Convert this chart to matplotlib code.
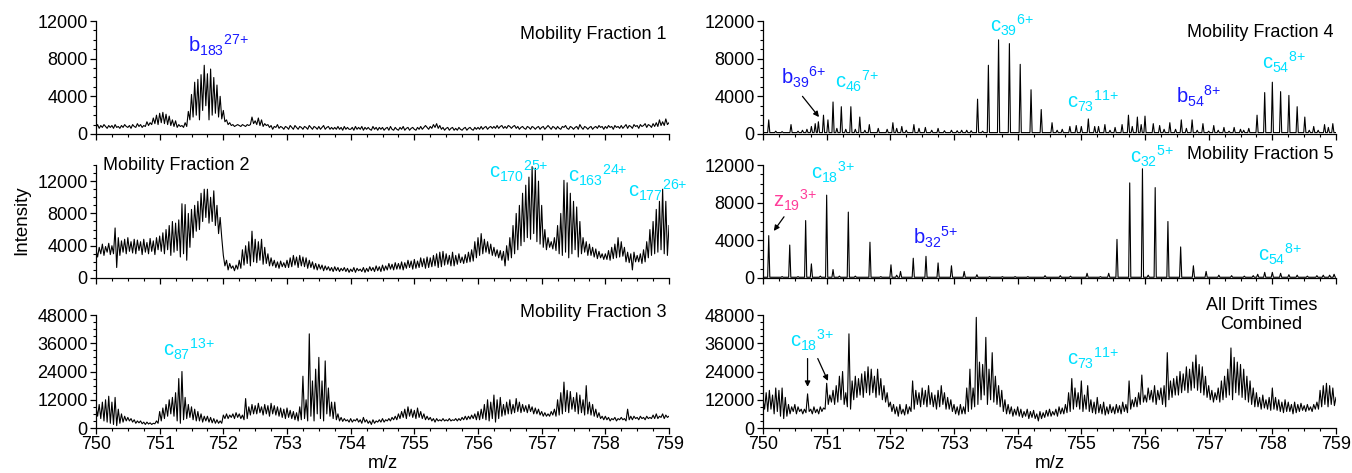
import numpy as np
import matplotlib
matplotlib.use("Agg")
import matplotlib.pyplot as plt
from matplotlib.ticker import MultipleLocator, NullFormatter

plt.rcParams['font.family'] = ['Liberation Sans', 'DejaVu Sans']
plt.rcParams['mathtext.fontset'] = 'custom'
plt.rcParams['mathtext.rm'] = 'Liberation Sans'
plt.rcParams['mathtext.it'] = 'Liberation Sans'
plt.rcParams['mathtext.bf'] = 'Liberation Sans:bold'

MZ_MIN, MZ_MAX = 750, 759

# ---------------- Data: dense profile spectra (sampled every 0.025 m/z) -------------
frac1 = [
    700, 1000, 600, 900, 700, 1000, 800, 600, 900, 700,
    900, 600, 1000, 700, 800, 600, 900, 700, 1000, 800,
    700, 900, 600, 1000, 800, 700, 1100, 800, 1000, 700,
    900, 800, 1300, 900, 1200, 1000, 1700, 1100, 2000, 1000,
    2200, 1200, 2300, 1100, 2100, 1000, 1900, 900, 1500, 800,
    1400, 700, 1000, 800, 900, 700, 1200, 800, 2400, 1500,
    4200, 1800, 5500, 2000, 5800, 1500, 6300, 2500, 7300, 3000,
    6400, 1500, 6900, 2000, 6000, 2200, 5200, 1800, 4000, 1600,
    2500, 1300, 1500, 1000, 1200, 900, 1000, 800, 900, 1000,
    900, 800, 1000, 900, 800, 1000, 900, 1000, 1800, 1100,
    1400, 1000, 1700, 900, 1500, 800, 1100, 900, 1000, 700,
    900, 500, 800, 700, 1000, 600, 800, 700, 500, 800,
    700, 500, 900, 700, 500, 900, 700, 500, 800, 700,
    500, 800, 700, 500, 900, 700, 500, 800, 700, 500,
    800, 500, 700, 900, 500, 700, 800, 500, 700, 500,
    700, 500, 800, 500, 700, 400, 800, 500, 700, 500,
    500, 700, 400, 800, 500, 700, 500, 800, 400, 700,
    500, 700, 500, 400, 800, 500, 700, 400, 700, 500,
    700, 400, 600, 700, 400, 800, 500, 400, 700, 500,
    400, 700, 500, 800, 400, 600, 700, 400, 600, 700,
    500, 400, 700, 500, 800, 500, 700, 900, 700, 500,
    800, 600, 1000, 700, 1100, 600, 900, 500, 700, 400,
    600, 700, 400, 600, 700, 400, 600, 400, 700, 500,
    400, 600, 700, 400, 600, 700, 500, 400, 700, 500,
    700, 500, 800, 500, 700, 800, 500, 700, 800, 600,
    800, 600, 900, 600, 800, 900, 600, 800, 600, 900,
    800, 600, 800, 900, 600, 800, 500, 700, 800, 600,
    500, 800, 700, 500, 800, 700, 500, 700, 800, 500,
    700, 800, 500, 700, 900, 700, 500, 800, 700, 500,
    800, 600, 500, 800, 700, 900, 600, 500, 800, 700,
    500, 700, 800, 500, 1000, 700, 500, 800, 700, 500,
    700, 800, 500, 700, 800, 600, 900, 700, 800, 500,
    800, 600, 900, 700, 800, 500, 900, 700, 800, 600,
    900, 600, 800, 1000, 600, 900, 800, 600, 1000, 800,
    900, 600, 1000, 800, 900, 1100, 700, 1000, 900, 700,
    1100, 800, 1200, 800, 1500, 900, 1300, 900, 1600, 1000,
    1200,
]

frac2 = [
    3500, 2600, 3800, 3000, 4200, 2800, 3900, 3200, 4300, 2900,
    4000, 3000, 6200, 1300, 5000, 2800, 4600, 3200, 4800, 3000,
    5000, 3300, 4500, 3100, 4800, 3000, 4700, 3400, 4500, 2900,
    4800, 3200, 4400, 3000, 4900, 3300, 4600, 2900, 5000, 3500,
    5200, 3300, 5600, 3000, 6000, 3500, 6500, 2800, 7000, 3200,
    6800, 3400, 7200, 2600, 9200, 3000, 9100, 2200, 8000, 3800,
    8500, 5000, 9000, 5800, 9500, 6000, 10500, 7000, 11000, 7500,
    11000, 6800, 10000, 7000, 10800, 6500, 9000, 5500, 7500, 5000,
    2800, 1500, 2200, 1000, 1800, 1200, 1500, 900, 1600, 1100,
    2200, 1200, 3500, 1600, 4000, 1800, 4500, 1500, 5800, 2000,
    4800, 1900, 4500, 2200, 4800, 1700, 3800, 1800, 3000, 1500,
    2500, 1500, 2200, 1300, 2000, 1200, 2100, 1400, 1900, 1300,
    2200, 1300, 2500, 1400, 2800, 1600, 2600, 1300, 2800, 1500,
    2600, 1400, 2500, 1200, 2200, 1300, 2000, 1100, 1800, 1000,
    1700, 1100, 1600, 900, 1500, 1000, 1400, 900, 1300, 800,
    1400, 900, 1300, 800, 1200, 900, 1300, 800, 1200, 700,
    1100, 800, 1300, 700, 1200, 900, 1100, 800, 1300, 700,
    1200, 800, 1400, 900, 1300, 800, 1500, 900, 1400, 800,
    1600, 900, 1500, 1000, 1800, 1100, 1700, 1000, 1900, 1100,
    1800, 1100, 2000, 1000, 1900, 1200, 2200, 1300, 2100, 1100,
    2300, 1200, 2100, 1300, 2500, 1400, 2400, 1200, 2600, 1300,
    2500, 1400, 2800, 1500, 3000, 1300, 3200, 1400, 3300, 1600,
    3000, 1700, 2800, 1500, 3200, 1500, 2800, 1700, 3000, 1900,
    2600, 1800, 2900, 1900, 3200, 2000, 3500, 2100, 4500, 2500,
    5000, 2800, 5500, 3000, 4800, 3200, 4500, 3000, 4200, 2800,
    3800, 2700, 3500, 2500, 3400, 2200, 3300, 1500, 4000, 2200,
    5000, 2500, 6500, 3000, 8000, 3500, 9000, 4000, 10500, 4500,
    11500, 5000, 12500, 4800, 13800, 5500, 13600, 4500, 12000, 4200,
    9000, 3800, 6000, 3500, 5000, 3800, 4500, 3600, 5000, 3400,
    6500, 3000, 8000, 2800, 12100, 3200, 11800, 2500, 10500, 3000,
    9500, 3500, 8800, 2600, 7000, 3000, 5000, 3200, 4500, 2800,
    4200, 2800, 3800, 2600, 3600, 2400, 3300, 2500, 3000, 2300,
    3000, 2300, 3400, 2200, 3800, 2400, 4200, 2500, 5000, 2600,
    4500, 2700, 3800, 2000, 3200, 1900, 3000, 1000, 3200, 2000,
    2800, 2000, 3000, 1800, 3500, 2000, 4500, 2500, 6000, 2800,
    7000, 3000, 8500, 3200, 9500, 3500, 11000, 3000, 9500, 2800,
    6500,
]

frac3 = [
    9000, 5000, 10000, 4000, 11000, 3000, 12000, 2500, 13500, 2000,
    11000, 1500, 13000, 1000, 8000, 2000, 6000, 2500, 5000, 3000,
    4500, 3000, 4000, 2500, 3500, 2000, 3000, 2200, 3000, 1800,
    2500, 1500, 2500, 1700, 2200, 1500, 2000, 1800, 3000, 2000,
    7000, 3000, 8500, 4000, 10000, 5000, 12000, 6000, 13000, 5000,
    15000, 3000, 21000, 2000, 24000, 3500, 13000, 4000, 10000, 4500,
    9000, 3500, 8000, 3000, 7000, 3000, 6000, 2500, 5000, 3000,
    5000, 2500, 4500, 2200, 4000, 2000, 3500, 2000, 3000, 2000,
    5500, 4000, 6000, 4000, 5500, 4500, 6000, 4000, 6500, 4500,
    6000, 4000, 5500, 3500, 12500, 4000, 9000, 5500, 10000, 6000,
    9500, 6000, 10500, 6500, 9000, 5500, 10000, 6000, 9500, 5000,
    10500, 6000, 9500, 5500, 9000, 5000, 8500, 4500, 8000, 4000,
    8500, 4500, 7500, 4000, 7000, 3500, 6500, 3000, 9000, 3500,
    22000, 4000, 12000, 3000, 40000, 5000, 20000, 3000, 25000, 6000,
    30000, 4000, 20000, 3000, 28500, 6000, 17000, 5000, 11000, 4000,
    11000, 3500, 6000, 3000, 4500, 2800, 4000, 3000, 3500, 2500,
    4000, 2500, 3500, 3000, 4000, 2500, 3500, 2000, 4500, 2500,
    3500, 2000, 3000, 1500, 3500, 2000, 3000, 2500, 3500, 2500,
    4000, 2500, 3500, 3000, 4000, 3000, 4500, 3500, 5000, 3500,
    6000, 4000, 7000, 4500, 8000, 4000, 9000, 5000, 8000, 4500,
    7500, 4000, 8500, 4500, 7000, 4000, 6000, 3500, 5000, 3500,
    4500, 3000, 4000, 2500, 4000, 3000, 3500, 3000, 4000, 3000,
    3500, 3000, 4000, 3000, 3500, 3200, 4000, 3000, 4000, 3200,
    4500, 3500, 5000, 3500, 5000, 3800, 5500, 4000, 6000, 3500,
    7000, 3500, 8000, 4000, 10000, 3500, 12000, 3000, 11000, 4000,
    14000, 2500, 12000, 4000, 13000, 5000, 10000, 5500, 11000, 6000,
    12000, 6000, 10000, 6500, 12500, 7000, 11000, 6500, 10000, 7000,
    9500, 6500, 10000, 7000, 9000, 6000, 8500, 6000, 8000, 5500,
    7000, 5000, 6500, 5000, 6000, 5000, 7000, 5500, 8000, 5000,
    12000, 5500, 15000, 6000, 19500, 7000, 16000, 6500, 15500, 8000,
    13000, 7000, 15000, 6000, 14000, 6500, 12000, 5500, 18000, 6000,
    11000, 5500, 10000, 5000, 8000, 4500, 6500, 4000, 5000, 3500,
    5000, 3500, 4500, 3000, 4000, 3500, 4500, 3000, 4000, 3500,
    4500, 3500, 4000, 3000, 8000, 3500, 5000, 3500, 5000, 4000,
    4500, 3500, 5000, 4000, 4500, 3500, 5000, 4000, 4500, 4000,
    5500, 4000, 6000, 4000, 5000, 4500, 6000, 4000, 5500, 4500,
    5000,
]

combined = [
    12000, 8000, 15000, 7000, 16000, 8000, 14000, 6000, 17000, 7000,
    16000, 5000, 17000, 4000, 13000, 5000, 10000, 6000, 9000, 7000,
    10000, 6000, 9000, 7000, 8000, 6000, 8000, 6500, 14500, 7000,
    8000, 6000, 9000, 6500, 8000, 6000, 9000, 7000, 8500, 8000,
    19000, 10000, 14000, 11000, 16000, 10000, 18000, 11000, 22000, 12000,
    24000, 10000, 15000, 9000, 40000, 8000, 20000, 12000, 22000, 13000,
    21000, 14000, 23000, 13000, 24000, 15000, 26000, 14000, 25000, 15000,
    22000, 13000, 25000, 14000, 21000, 12000, 18000, 11000, 15000, 9000,
    11000, 7000, 10000, 6000, 9000, 5000, 10000, 6000, 8000, 5500,
    10000, 6000, 9000, 7000, 20000, 8000, 16000, 10000, 15000, 9000,
    17000, 10000, 16000, 9000, 18000, 10000, 15000, 9000, 14000, 8000,
    16000, 9000, 18000, 10000, 15000, 8000, 13000, 8000, 12000, 7000,
    10000, 6000, 9000, 5500, 10000, 6000, 9000, 6000, 17000, 7000,
    25000, 8000, 17000, 9000, 47000, 10000, 28000, 12000, 27000, 14000,
    38500, 10000, 25000, 12000, 32000, 11000, 22000, 10000, 18000, 9000,
    16000, 7000, 12000, 6000, 10000, 6000, 9000, 5000, 8000, 5500,
    9000, 5000, 8000, 4500, 7000, 5000, 8000, 4000, 7000, 4500,
    7500, 4000, 6000, 3000, 7000, 4000, 6500, 4500, 7500, 5000,
    8000, 5000, 7000, 5500, 8000, 5000, 9000, 6000, 8500, 6000,
    10000, 6500, 15000, 7000, 21000, 8000, 17000, 9000, 15000, 8000,
    20000, 7000, 14000, 8000, 18000, 7000, 12000, 6500, 11000, 6000,
    13000, 6500, 10000, 6000, 11000, 5500, 9000, 6000, 10000, 6500,
    9000, 6000, 10000, 6500, 9500, 6000, 11000, 7000, 10000, 6500,
    20000, 8000, 12000, 9000, 13000, 9000, 15000, 10000, 22500, 11000,
    14000, 11000, 17000, 12000, 16000, 11000, 18000, 10000, 16000, 12000,
    17000, 10000, 18000, 9000, 32000, 12000, 20000, 13000, 21000, 14000,
    22000, 14000, 24000, 15000, 23000, 16000, 26000, 15000, 25000, 16000,
    28000, 17000, 31000, 16000, 27000, 15000, 26000, 14000, 22000, 13000,
    18000, 12000, 16000, 11000, 15000, 12000, 17000, 11000, 20000, 12000,
    22000, 13000, 25000, 14000, 34000, 12000, 30000, 15000, 28000, 14000,
    27000, 13000, 25000, 12000, 22000, 11000, 20000, 10000, 17000, 9000,
    15000, 9000, 13000, 8000, 14000, 8500, 12000, 8000, 13000, 7500,
    17000, 8000, 13000, 7500, 12000, 7000, 11000, 6500, 12000, 7000,
    11000, 7000, 10000, 6000, 11000, 6500, 10000, 7000, 10500, 7500,
    9500, 7000, 10000, 7500, 9000, 7000, 10000, 8000, 11000, 8000,
    16000, 9000, 18000, 10000, 19000, 9000, 18000, 10000, 17000, 9500,
    13000,
]

# ---------------- Data: centroided isotope peaks (m/z, intensity) ----------------
frac4_mz = [750.09, 750.20, 750.30, 750.44, 750.55, 750.62, 750.69, 750.76, 750.82, 750.87,
            750.95, 751.02, 751.10, 751.16, 751.23, 751.30, 751.38, 751.45, 751.52, 751.60,
            751.67, 751.81, 751.95, 752.04, 752.10, 752.18, 752.25, 752.37, 752.45, 752.55,
            752.65, 752.75, 752.85, 752.96, 753.05, 753.12, 753.20, 753.27, 753.37, 753.45,
            753.54, 753.70, 753.87, 754.04, 754.21, 754.37, 754.54, 754.62, 754.70, 754.82,
            754.92, 755.00, 755.11, 755.21, 755.27, 755.37, 755.45, 755.53, 755.64, 755.74,
            755.80, 755.88, 755.94, 756.00, 756.13, 756.23, 756.30, 756.39, 756.48, 756.57,
            756.65, 756.74, 756.82, 756.91, 757.00, 757.08, 757.15, 757.24, 757.32, 757.40,
            757.50, 757.55, 757.63, 757.76, 757.88, 758.00, 758.13, 758.26, 758.39, 758.51,
            758.58, 758.65, 758.72, 758.82, 758.88, 758.95]
frac4_int = [1500, 300, 250, 1000, 300, 400, 500, 800, 1100, 1300,
             2000, 1500, 3400, 600, 2900, 500, 2900, 500, 1800, 400,
             1000, 600, 500, 1200, 600, 800, 400, 1000, 600, 700,
             400, 600, 350, 400, 350, 400, 400, 350, 3700, 300,
             7300, 10000, 9600, 7400, 4700, 2600, 1200, 400, 500, 800,
             900, 800, 1600, 800, 800, 1000, 400, 700, 1000, 2000,
             800, 1800, 1000, 1900, 1100, 900, 500, 1200, 500, 1500,
             600, 1500, 400, 1100, 300, 900, 400, 700, 300, 700,
             500, 400, 600, 2000, 4400, 5500, 4500, 4100, 2900, 1800,
             400, 800, 400, 1000, 700, 1100]
frac4_base = 150

frac5_mz = [750.09, 750.30, 750.42, 750.55, 750.67, 750.76, 750.90, 751.00, 751.10, 751.20,
            751.34, 751.45, 751.68, 751.85, 752.01, 752.10, 752.16, 752.36, 752.56, 752.75,
            752.96, 753.16, 753.36, 753.56, 753.76, 753.96, 754.16, 754.43, 754.67, 754.83,
            755.09, 755.30, 755.43, 755.56, 755.76, 755.96, 756.05, 756.16, 756.36, 756.56,
            756.76, 756.96, 757.16, 757.36, 757.56, 757.70, 757.77, 757.88, 758.00, 758.13,
            758.26, 758.39, 758.55, 758.70, 758.80, 758.90, 758.97]
frac5_int = [4500, 150, 3500, 150, 6100, 1500, 200, 8800, 900, 200,
             7000, 200, 3800, 150, 1400, 300, 700, 2100, 2300, 1600,
             1300, 700, 350, 150, 150, 150, 150, 250, 250, 200,
             500, 150, 500, 4100, 10100, 11600, 300, 9600, 6000, 3300,
             1300, 700, 300, 250, 200, 250, 400, 600, 600, 500,
             350, 300, 200, 250, 300, 300, 400]
frac5_base = 80

# ---------------- Annotations ----------------
BLUE = '#1a1aff'
CYAN = '#00e0ff'
PINK = '#ff3d9a'

# (panel, x, y, ion, sub, sup, colour)
labels = [
    (0, 751.45, 8700, 'b', '183', '27+', BLUE),
    (1, 756.18, 12300, 'c', '170', '25+', CYAN),
    (1, 757.42, 11800, 'c', '163', '24+', CYAN),
    (1, 758.36, 10000, 'c', '177', '26+', CYAN),
    (2, 751.05, 30500, 'c', '87', '13+', CYAN),
    (3, 750.28, 5300, 'b', '39', '6+', BLUE),
    (3, 751.13, 4800, 'c', '46', '7+', CYAN),
    (3, 753.56, 10800, 'c', '39', '6+', CYAN),
    (3, 754.78, 2700, 'c', '73', '11+', CYAN),
    (3, 756.48, 3200, 'b', '54', '8+', BLUE),
    (3, 757.83, 6900, 'c', '54', '8+', CYAN),
    (4, 750.15, 7500, 'z', '19', '3+', PINK),
    (4, 750.75, 10500, 'c', '18', '3+', CYAN),
    (4, 752.35, 3600, 'b', '32', '5+', BLUE),
    (4, 755.76, 12200, 'c', '32', '5+', CYAN),
    (4, 757.78, 1700, 'c', '54', '8+', CYAN),
    (5, 750.42, 34000, 'c', '18', '3+', CYAN),
    (5, 754.78, 26500, 'c', '73', '11+', CYAN),
]

# (panel, x_from, y_from, x_to, y_to)
arrows = [
    (3, 750.62, 4000, 750.88, 1800),
    (4, 750.33, 6500, 750.17, 5000),
    (5, 750.70, 29500, 750.70, 17500),
    (5, 750.86, 29500, 751.02, 20000),
]

titles = ['Mobility Fraction 1', 'Mobility Fraction 2', 'Mobility Fraction 3',
          'Mobility Fraction 4', 'Mobility Fraction 5', 'All Drift Times\nCombined']

# ---------------- Figure ----------------
fig = plt.figure(figsize=(13.52, 4.73), dpi=100)
W, H = 1352, 473
col_x = [96, 763]
col_w = 573
row_top = [21, 165, 315]
row_h = 113

axes = []
for c in range(2):
    for r in range(3):
        left = col_x[c] / W
        bottom = 1 - (row_top[r] + row_h) / H
        ax = fig.add_axes([left, bottom, col_w / W, row_h / H])
        axes.append(ax)


def profile_from_peaks(mz, inten, base, w=0.017):
    mz = np.asarray(mz, float)
    inten = np.asarray(inten, float)
    b = np.full_like(mz, base)
    xs = np.column_stack([mz - w, mz, mz + w]).ravel()
    ys = np.column_stack([b, inten, b]).ravel()
    xs = np.concatenate([[MZ_MIN], xs, [MZ_MAX]])
    ys = np.concatenate([[base], ys, [base]])
    return xs, ys


series = [frac1, frac2, frac3, None, None, combined]
ylims = [12000, 14000, 48000, 12000, 12000, 48000]
ymajor = [4000, 4000, 12000, 4000, 4000, 12000]

for i, ax in enumerate(axes):
    if series[i] is not None:
        y = np.asarray(series[i], float)
        x = np.linspace(MZ_MIN, MZ_MAX, len(y))
    elif i == 3:
        x, y = profile_from_peaks(frac4_mz, frac4_int, frac4_base)
    else:
        x, y = profile_from_peaks(frac5_mz, frac5_int, frac5_base)
    ax.plot(x, y, color='black', lw=0.8)
    ax.set_xlim(MZ_MIN, MZ_MAX)
    ax.set_ylim(0, ylims[i])
    ax.spines['top'].set_visible(False)
    ax.spines['right'].set_visible(False)
    for s in ('left', 'bottom'):
        ax.spines[s].set_linewidth(0.9)
    ax.xaxis.set_major_locator(MultipleLocator(1))
    ax.xaxis.set_minor_locator(MultipleLocator(0.25))
    ax.yaxis.set_major_locator(MultipleLocator(ymajor[i]))
    ax.yaxis.set_minor_locator(MultipleLocator(ymajor[i] / 4))
    ax.tick_params(which='major', direction='out', length=4, width=0.9, labelsize=13, pad=2)
    ax.tick_params(which='minor', direction='out', length=2.5, width=0.8)
    if i not in (2, 5):
        ax.xaxis.set_major_formatter(NullFormatter())
    ax.patch.set_alpha(0)

# panel titles
TS = 13
axes[0].text(0.995, 0.88, titles[0], transform=axes[0].transAxes, ha='right', va='center', fontsize=TS)
axes[1].text(0.012, 1.0, titles[1], transform=axes[1].transAxes, ha='left', va='center', fontsize=TS)
axes[2].text(0.995, 1.02, titles[2], transform=axes[2].transAxes, ha='right', va='center', fontsize=TS)
axes[3].text(0.995, 0.90, titles[3], transform=axes[3].transAxes, ha='right', va='center', fontsize=TS)
axes[4].text(0.995, 1.09, titles[4], transform=axes[4].transAxes, ha='right', va='center', fontsize=TS)
axes[5].text(0.87, 1.0, titles[5], transform=axes[5].transAxes, ha='center', va='center',
             fontsize=TS, linespacing=1.1)

for (p, x, y, ion, sub, sup, col) in labels:
    sup_txt = sup.replace('+', '{+}')
    axes[p].text(x, y, r'$%s_{%s}{}^{%s}$' % (ion, sub, sup_txt), color=col, fontsize=14.5,
                 ha='left', va='baseline', clip_on=False)

for (p, x0, y0, x1, y1) in arrows:
    axes[p].annotate('', xy=(x1, y1), xytext=(x0, y0),
                     arrowprops=dict(arrowstyle='-|>', color='black', lw=0.9,
                                     mutation_scale=8, shrinkA=0, shrinkB=0))

fig.text(22 / W, 1 - 220 / H, 'Intensity', rotation=90, ha='center', va='center', fontsize=13.5)
for c in range(2):
    fig.text((col_x[c] + col_w / 2) / W, 1 - 463 / H, 'm/z', ha='center', va='center', fontsize=13.5)

fig.savefig('out.png', dpi=100)
